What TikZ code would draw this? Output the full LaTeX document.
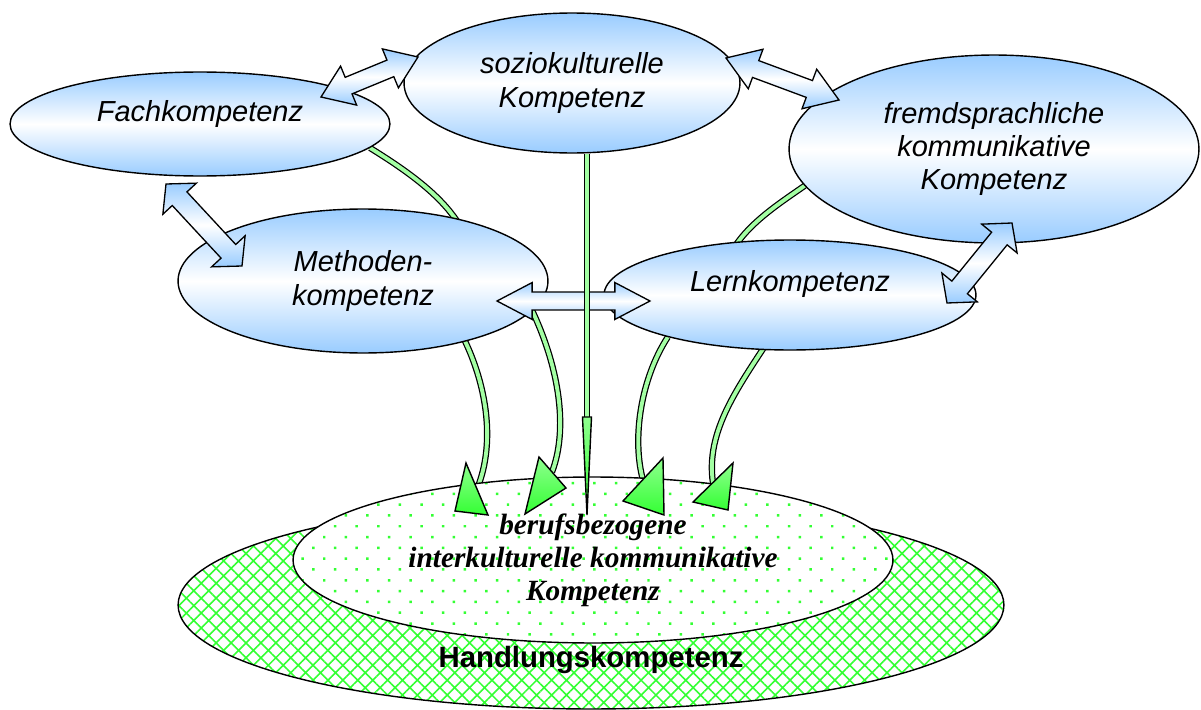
\documentclass[tikz,border=0pt]{standalone}
\usepackage{fontspec}
\setmainfont{Liberation Serif}
\setsansfont{Liberation Sans}
\usetikzlibrary{shapes.geometric,calc,patterns.meta,backgrounds}

\definecolor{skyblue}{RGB}{153,204,255}
\definecolor{lime}{RGB}{51,255,51}

% block double arrow: tip a, tip b, head length, half head width, half shaft width
\newcommand{\dblarrow}[5]{%
  \path[barrow] let \p1=($(#2)-(#1)$), \n1={atan2(\y1,\x1)} in
    (#1) -- ($(#1)+(\n1:#3)+(\n1+90:#4)$) -- ($(#1)+(\n1:#3)+(\n1+90:#5)$)
    -- ($(#2)+(\n1:-#3)+(\n1+90:#5)$) -- ($(#2)+(\n1:-#3)+(\n1+90:#4)$)
    -- (#2)
    -- ($(#2)+(\n1:-#3)+(\n1-90:#4)$) -- ($(#2)+(\n1:-#3)+(\n1-90:#5)$)
    -- ($(#1)+(\n1:#3)+(\n1-90:#5)$) -- ($(#1)+(\n1:#3)+(\n1-90:#4)$)
    -- cycle;}

\begin{document}
\begin{tikzpicture}[x=0.02cm, y=-0.02cm, font=\sffamily]
  \tikzstyle{komp}=[ellipse, draw, line width=0.8pt, top color=skyblue, bottom color=skyblue,
                    middle color=white, inner sep=0pt, align=center,
                    font=\sffamily\itshape\fontsize{16.5}{19}\selectfont]
  \tikzstyle{barrow}=[draw, line width=0.75pt, line join=miter, top color=skyblue,
                      bottom color=skyblue, middle color=white]
  \tikzstyle{gshaft}=[double=lime!45!white, double distance=2.2pt, line width=0.7pt]
  \tikzstyle{gtip}=[draw, line width=0.8pt, top color=lime!55!white, bottom color=lime]
  \useasboundingbox (0,0) rectangle (1201,710);

  % --- Handlungskompetenz mit Kern ---
  \node[ellipse, draw, line width=0.8pt, preaction={fill=white},
        pattern={Hatch[angle=45,distance=6pt,line width=0.9pt]}, pattern color=lime,
        minimum width=16.52cm, minimum height=4.16cm] (hand) at (591,605) {};
  \node[font=\sffamily\bfseries\fontsize{16.7}{19}\selectfont] (handtxt) at (591,660) {Handlungskompetenz};
  \node[ellipse, draw, line width=0.8pt, preaction={fill=white},
        pattern={Dots[angle=45,distance=8.7pt,radius=1pt]}, pattern color=lime,
        minimum width=12cm, minimum height=3.32cm, inner sep=0pt, align=center,
        font=\rmfamily\bfseries\itshape\fontsize{16.7}{18.8}\selectfont] (kern) at (593,560)
        {berufsbezogene\\interkulturelle kommunikative\\Kompetenz};

  % --- Teilkompetenzen ---
  \node[komp, minimum width=7.6cm,  minimum height=2.08cm, text depth=15pt] (fach) at (200,124) {Fachkompetenz};
  \node[komp, minimum width=6.72cm, minimum height=2.8cm]  (sozio)  at (572,83)  {soziokulturelle\\Kompetenz};
  \node[komp, minimum width=8.2cm,  minimum height=3.76cm] (fremd)  at (994,149) {fremdsprachliche\\kommunikative\\Kompetenz};
  \node[komp, minimum width=7.4cm,  minimum height=2.88cm] (method) at (363,281) {Methoden-\\kompetenz};
  \node[komp, minimum width=7.44cm, minimum height=2.2cm, text depth=16pt] (lern) at (790,295) {Lernkompetenz};

  % --- gruene Pfeile in den Kern ---
  \coordinate (hA) at (477,489);
  \coordinate (hB) at (552,472);
  \coordinate (hC) at (643,480);
  \coordinate (hD) at (713,483);
  \coordinate (tipS) at (587,515);
  \begin{scope}[on background layer]
    \draw[gshaft] (fach.-8) .. controls (430,185) and (490,230) .. (470,300) -- (462,335)
                  .. controls (485,380) and (497,440) .. (hA);
    \draw[gshaft] (method.-10) .. controls (560,370) and (568,430) .. (hB);
    \draw[gshaft] (lern.199) .. controls (640,380) and (632,440) .. (hC);
    \draw[gshaft] (fremd.191) .. controls (780,203) and (745,225) .. (730,255) -- (772,335)
                  .. controls (740,385) and (705,430) .. (hD);
  \end{scope}
  \draw[gtip, shift={(hA)}] (-11,-26) -- (-22,22) -- (11,26) -- cycle;
  \draw[gtip, shift={(hB)}] (-13,-15) -- (-27,42) -- (14,16) -- cycle;
  \draw[gtip, shift={(hC)}] (20,-22) -- (21,35) -- (-20,21) -- cycle;
  \draw[gtip, shift={(hD)}] (20,-20) -- (15,27) -- (-20,19) -- cycle;

  % --- Doppelpfeile zwischen den Kompetenzen ---
  \coordinate (fs1) at (321,97);   \coordinate (fs2) at (418,57);
  \coordinate (sf1) at (726,58);   \coordinate (sf2) at (839,100);
  \coordinate (fm1) at (166,184);  \coordinate (fm2) at (242,266);
  \coordinate (ml1) at (497,301);  \coordinate (ml2) at (650,301);
  \coordinate (fl1) at (1012,223); \coordinate (fl2) at (947,303);
  \dblarrow{fs1}{fs2}{17pt}{12pt}{5.1pt}
  \dblarrow{sf1}{sf2}{18pt}{12pt}{5.1pt}
  \dblarrow{fm1}{fm2}{11.4pt}{13pt}{5.7pt}
  \dblarrow{fl1}{fl2}{11.4pt}{13pt}{5.7pt}
  \dblarrow{ml1}{ml2}{20pt}{10.5pt}{5.1pt}

  % --- senkrechter Pfeil von der soziokulturellen Kompetenz ---
  \draw[gshaft] (sozio.south -| tipS) -- ($(tipS)+(0,-98)$);
  \draw[gtip, shift={(tipS)}] (-4.5,-98) -- (0,0) -- (4.5,-98) -- cycle;
\end{tikzpicture}
\end{document}
